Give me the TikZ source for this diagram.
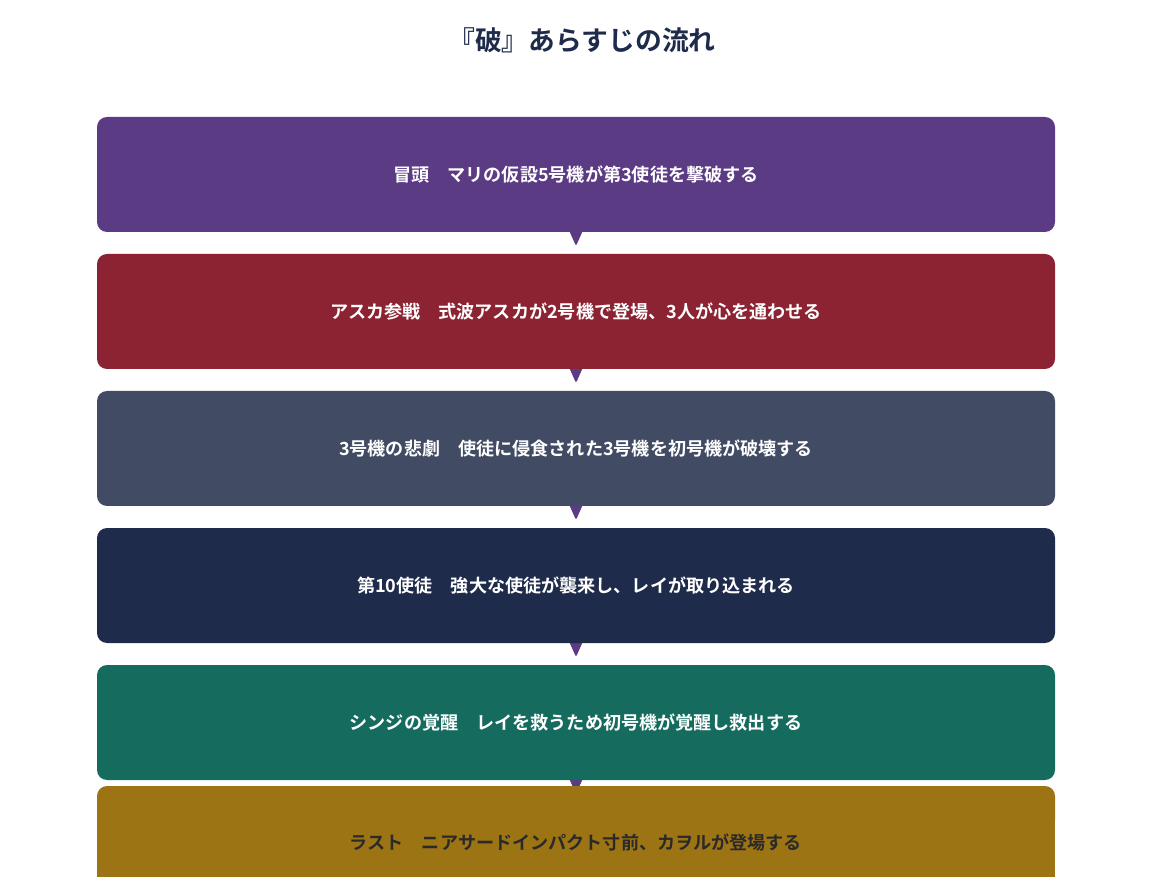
\documentclass[tikz,border=0pt]{standalone}
\usepackage{fontspec}
\setmainfont{Noto Sans CJK JP}[BoldFont={* Bold}]
\newfontfamily\jpbold{Noto Sans CJK JP Bold}
\definecolor{cpurple}{HTML}{5C3B85}
\definecolor{cred}{HTML}{8B2332}
\definecolor{cslate}{HTML}{424B64}
\definecolor{cnavy}{HTML}{1E2B4A}
\definecolor{cteal}{HTML}{166B5F}
\definecolor{cgold}{HTML}{9C7414}
\definecolor{ctext}{HTML}{2A2A2A}
\begin{document}
\begin{tikzpicture}[x=1pt,y=-1pt,
  boxfont/.style={font=\jpbold\fontsize{18.1}{21}\selectfont},
  stepbox/.style={rounded corners=10pt, minimum width=958pt, minimum height=115pt, inner sep=0pt, text=white, boxfont},
  arrowtri/.style={fill=cpurple, rounded corners=1.5pt}]
\useasboundingbox (0,0) rectangle (1152,890);
\node[font=\jpbold\fontsize{26.8}{30}\selectfont, text=cnavy] (title) at (582,40) {『破』あらすじの流れ};
% arrows (drawn first, partly hidden under boxes)
\foreach \yb in {232,369,506,643,780}{
  \fill[arrowtri] (568,\yb-4) -- (584,\yb-4) -- (576,\yb+14) -- cycle;
}
\node[stepbox, fill=cpurple] (s1) at (576,174.5) {冒頭　マリの仮設5号機が第3使徒を撃破する};
\node[stepbox, fill=cred] (s2) at (576,311.5) {アスカ参戦　式波アスカが2号機で登場、3人が心を通わせる};
\node[stepbox, fill=cslate] (s3) at (576,448.5) {3号機の悲劇　使徒に侵食された3号機を初号機が破壊する};
\node[stepbox, fill=cnavy] (s4) at (576,585.5) {第10使徒　強大な使徒が襲来し、レイが取り込まれる};
\node[stepbox, fill=cteal] (s5) at (576,722.5) {シンジの覚醒　レイを救うため初号機が覚醒し救出する};
\fill[cgold] (97,810) rectangle (1055,877);
\fill[cgold, rounded corners=10pt] (97,830) -- (97,786) -- (1055,786) -- (1055,830) -- cycle;
\node[text=ctext, boxfont] (s6) at (576,843) {ラスト　ニアサードインパクト寸前、カヲルが登場する};
\end{tikzpicture}
\end{document}
